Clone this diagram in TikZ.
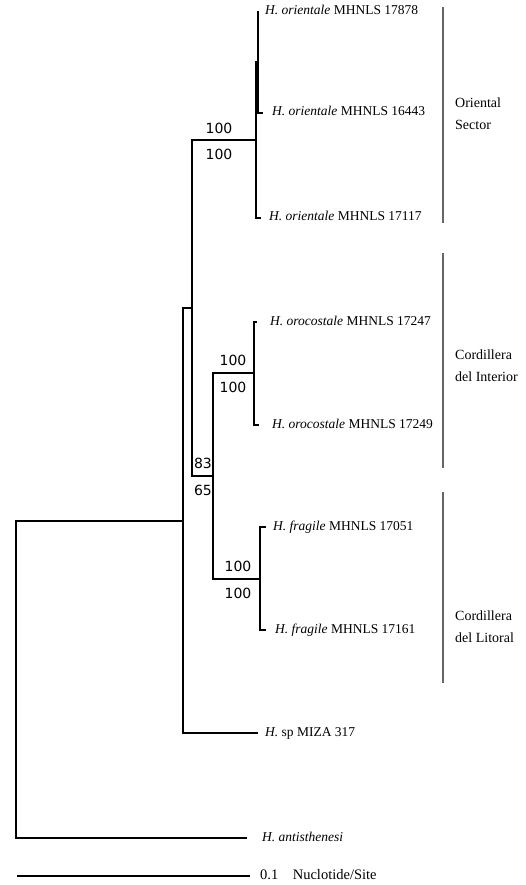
\documentclass[tikz,border=0pt]{standalone}
\usepackage{fontspec}
\setmainfont{Liberation Serif}
\newfontfamily\bsfont{DejaVu Sans}
\usetikzlibrary{positioning}

\tikzset{
  branch/.style={line width=1.8pt, line cap=rect},
  taxon/.style={anchor=west, inner sep=0pt, text height=9pt, text depth=3pt, font=\fontsize{13.5}{15}\selectfont},
  boot/.style={inner sep=0pt, font=\bsfont\fontsize{14}{16}\selectfont},
  clade/.style={draw=black!60, line width=1.2pt},
  cladename/.style={anchor=west, align=left, inner sep=0pt, font=\fontsize{14}{22}\selectfont},
}

\begin{document}
\begin{tikzpicture}[x=1pt, y=-1pt]
   \useasboundingbox (0,0) rectangle (525,885);

   % inner nodes
   \coordinate (root) at (16,521);
   \coordinate (ingr) at (183,521);
   \coordinate (orcd) at (192,308);
   \coordinate (ori)  at (256,140);
   \coordinate (ori2) at (258,62);
   \coordinate (cord) at (213,476);
   \coordinate (int)  at (254,373);
   \coordinate (lit)  at (260,579);

   % tips
   \coordinate (o1) at (258,12);
   \coordinate (o2) at (262,113);
   \coordinate (o3) at (260,218);
   \coordinate (i1) at (256,322);
   \coordinate (i2) at (258,425);
   \coordinate (l1) at (265,527);
   \coordinate (l2) at (265,630);
   \coordinate (sp) at (257,733);
   \coordinate (ant) at (246,838);

   \node (to1)[taxon, right=7pt of o1]  {\textit{H. orientale} MHNLS 17878};
   \node (to2)[taxon, right=10pt of o2] {\textit{H. orientale} MHNLS 16443};
   \node (to3)[taxon, right=9pt of o3]  {\textit{H. orientale} MHNLS 17117};
   \node (ti1)[taxon, right=14pt of i1] {\textit{H. orocostale} MHNLS 17247};
   \node (ti2)[taxon, right=14pt of i2] {\textit{H. orocostale} MHNLS 17249};
   \node (tl1)[taxon, right=8pt of l1]  {\textit{H. fragile} MHNLS 17051};
   \node (tl2)[taxon, right=10pt of l2] {\textit{H. fragile} MHNLS 17161};
   \node (tsp)[taxon, right=8pt of sp]  {\textit{H.} sp MIZA 317};
   \node (tan)[taxon, right=16pt of ant] {\textit{H. antisthenesi}};

   % branches
   \draw[branch] (root) -- (ingr);
   \draw[branch] (root) |- (ant);
   \draw[branch] (ingr) |- (orcd);
   \draw[branch] (ingr) |- (sp);
   \draw[branch] (orcd) |- (ori);
   \draw[branch] (orcd) |- (cord);
   \draw[branch] (ori) |- (ori2);
   \draw[branch] (ori) |- (o3);
   \draw[branch] (ori2) |- (o1);
   \draw[branch] (ori2) |- (o2);
   \draw[branch] (cord) |- (int);
   \draw[branch] (cord) |- (lit);
   \draw[branch] (int) |- (i1);
   \draw[branch] (int) |- (i2);
   \draw[branch] (lit) |- (l1);
   \draw[branch] (lit) |- (l2);

   % support values
   \node (bo1)[boot] at (219,128) {100};
   \node (bo2)[boot] at (219,154) {100};
   \node (bc1)[boot] at (203,463) {83};
   \node (bc2)[boot] at (203,490) {65};
   \node (bi1)[boot] at (233,360) {100};
   \node (bi2)[boot] at (233,387) {100};
   \node (bl1)[boot] at (238,566) {100};
   \node (bl2)[boot] at (238,593) {100};

   % clade bars
   \coordinate (osA) at (443,7);   \coordinate (osB) at (443,223);
   \coordinate (ciA) at (443,253); \coordinate (ciB) at (443,468);
   \coordinate (clA) at (443,492); \coordinate (clB) at (443,683);
   \draw[clade] (osA) -- (osB);
   \draw[clade] (ciA) -- (ciB);
   \draw[clade] (clA) -- (clB);
   \node (nos)[cladename] at (455,114) {Oriental\\Sector};
   \node (nci)[cladename] at (455,366) {Cordillera\\del Interior};
   \node (ncl)[cladename] at (455,627) {Cordillera\\del Litoral};

   % scale
   \coordinate (sbL) at (18,876);
   \coordinate (sbR) at (249,876);
   \draw[branch] (sbL) -- (sbR);
   \node (sbT)[taxon, right=11pt of sbR, font=\fontsize{14.5}{16}\selectfont] {0.1\hspace{1em}Nuclotide/Site};
\end{tikzpicture}
\end{document}
